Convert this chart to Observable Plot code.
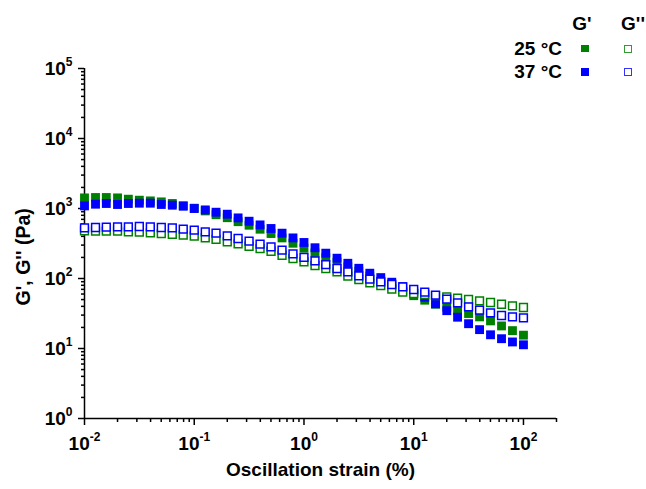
<!DOCTYPE html>
<html><head><meta charset="utf-8">
<script src="https://cdn.jsdelivr.net/npm/d3@7"></script>
<script src="https://cdn.jsdelivr.net/npm/@observablehq/plot@0.6"></script>
<style>
body{margin:0;background:#fff;}
#wrap{position:relative;width:646px;height:489px;font-family:"Liberation Sans",Arial,sans-serif;font-weight:bold;color:#000;}
.lg{position:absolute;font-size:19px;line-height:19px;white-space:nowrap;}
.sq{position:absolute;box-sizing:border-box;}
</style></head><body><div id="wrap"></div>
<script>
// Oscillation strain (%)
const strain = [0.01, 0.0126, 0.0158, 0.02, 0.0251, 0.0316, 0.0398, 0.0501, 0.0631, 0.0794,
  0.1, 0.126, 0.158, 0.2, 0.251, 0.316, 0.398, 0.501, 0.631, 0.794,
  1, 1.26, 1.58, 2, 2.51, 3.16, 3.98, 5.01, 6.31, 7.94,
  10, 12.6, 15.8, 20, 25.1, 31.6, 39.8, 50.1, 63.1, 79.4, 100];
// G' at 25 °C (Pa)
const gp25 = [1417,1436,1436,1417,1358,1314,1284,1243,1179,1096,
  1010,924,815,739,648,577,506,439,380,319,
  271,232,198,171,147,127,108,91.5,77.6,66.5,
  56.8,49.0,42.9,38.9,34.7,31.6,28.3,24.8,21.0,18.0,15.5];
// G' at 37 °C (Pa)
const gp37 = [1089,1152,1179,1141,1179,1191,1191,1141,1115,1079,
  1000,955,885,829,734,658,583,518,444,380,
  327,275,230,195,165,140,119,103,88.5,76.4,
  64.8,54.1,43.6,34.7,28.0,22.6,18.6,15.7,13.8,12.4,11.3];
// G'' at 25 °C (Pa)
const gpp25 = [479,474,474,474,463,459,448,439,429,416,
  402,380,361,333,312,289,268,245,215,193,
  173,153,139,124,108,96.8,86.5,78.9,70.3,63.7,
  60.7,58.7,56.8,54.6,52.3,50.1,47.9,45.4,42.9,40.6,38.5];
// G'' at 37 °C (Pa)
const gpp37 = [528,535,541,546,546,553,546,535,528,506,
  490,463,444,406,373,341,309,283,254,225,
  200,178,158,139,124,109,97.7,89.4,82.1,75.9,
  69.6,63.7,57.7,50.6,44.8,39.3,35.3,32.3,29.6,28.3,27.4];

const xTicks = [0.01, 0.1, 1, 10, 100];
const xTickLabels = ["10^-2", "10^-1", "10^0", "10^1", "10^2"];
const yTicks = [1, 10, 100, 1000, 10000, 100000];
const yTickLabels = ["10^0", "10^1", "10^2", "10^3", "10^4", "10^5"];
const xTitle = ["Oscillation strain (%)"];
const yTitle = ["G', G'' (Pa)"];
const legendCols = ["G'", "G''"];
const legendRows = ["25 °C", "37 °C"];
const colors = ["#008000", "#0000ff"];

const rows = strain.map((s, i) => ({strain: s, gp25: gp25[i], gp37: gp37[i], gpp25: gpp25[i], gpp37: gpp37[i]}));

function minorTicks(lo, hi, max) {
  const out = [];
  for (let e = lo; e <= hi; e++) for (let m = 2; m <= 9; m++) { const v = m * Math.pow(10, e); if (v <= max) out.push(+v.toPrecision(3)); }
  return out;
}
const xMinor = minorTicks(-2, 2, 200);
const yMinor = minorTicks(0, 4, 1e5);

const chart = Plot.plot({
  width: 646, height: 489,
  marginLeft: 84, marginRight: 90, marginTop: 68, marginBottom: 71,
  style: {fontFamily: "'Liberation Sans', Arial, sans-serif", fontWeight: "bold", background: "white", color: "black", overflow: "visible"},
  x: {type: "log", domain: [0.01, 200]},
  y: {type: "log", domain: [1, 1e5]},
  marks: [
    Plot.axisX({ticks: xMinor, tickSize: 4, strokeWidth: 1.5, tickFormat: () => "", label: null}),
    Plot.axisX({ticks: xTicks, tickSize: 7, tickPadding: 11, strokeWidth: 1.5, fontSize: 19, tickFormat: d => xTickLabels[xTicks.indexOf(d)], label: null}),
    Plot.axisY({ticks: yMinor, tickSize: 3, strokeWidth: 1.5, tickFormat: () => "", label: null}),
    Plot.axisY({ticks: yTicks, tickSize: 6, tickPadding: 6, strokeWidth: 1.5, fontSize: 19, tickFormat: d => yTickLabels[yTicks.indexOf(d)], label: null}),
    Plot.ruleY([1], {stroke: "black", strokeWidth: 1.5}),
    Plot.ruleX([0.01], {stroke: "black", strokeWidth: 1.5}),
    Plot.dot(rows, {x: "strain", y: "gp25", symbol: "square", r: 5, fill: colors[0]}),
    Plot.dot(rows, {x: "strain", y: "gp37", symbol: "square", r: 5, fill: colors[1]}),
    Plot.dot(rows, {x: "strain", y: "gpp25", symbol: "square", r: 4.4, fill: "white", stroke: colors[0], strokeWidth: 1.5}),
    Plot.dot(rows, {x: "strain", y: "gpp37", symbol: "square", r: 4.4, fill: "white", stroke: colors[1], strokeWidth: 1.5}),
    Plot.text(xTitle, {text: d => d, frameAnchor: "bottom", dy: 57, fontSize: 19, fontWeight: "bold", fill: "black"}),
    Plot.text(yTitle, {text: d => d, frameAnchor: "left", dx: -61, dy: 62, rotate: -90, fontSize: 19.5, fontWeight: "bold", fill: "black"})
  ]
});

// superscript exponents in tick labels
d3.select(chart).selectAll('g[aria-label$="tick label"] text').each(function () {
  const s = this.textContent;
  if (!s.includes("^")) return;
  const [b, e] = s.split("^");
  const t = d3.select(this);
  t.text(null);
  t.append("tspan").text(b);
  t.append("tspan").attr("dy", -9).attr("font-size", 12).text(e);
});

const wrap = document.getElementById("wrap");
wrap.appendChild(chart);

// legend
function addText(txt, style) {
  const d = document.createElement("div");
  d.className = "lg"; d.textContent = txt;
  Object.assign(d.style, style);
  wrap.appendChild(d);
}
function addSq(color, filled, cx, cy) {
  const d = document.createElement("div");
  d.className = "sq";
  const s = filled ? 7.5 : 8;
  Object.assign(d.style, {left: (cx - s / 2) + "px", top: (cy - s / 2) + "px", width: s + "px", height: s + "px"});
  if (filled) d.style.background = color; else { d.style.border = "1.5px solid " + color; d.style.opacity = 0.8; }
  wrap.appendChild(d);
}
addText(legendCols[0], {left: "562px", width: "40px", textAlign: "center", top: "14px"});
addText(legendCols[1], {left: "613px", width: "40px", textAlign: "center", top: "14px"});
addText(legendRows[0], {right: "84px", top: "39px"});
addText(legendRows[1], {right: "84px", top: "62px"});
addSq(colors[0], true, 585, 48.5);
addSq(colors[0], false, 628.3, 48.5);
addSq(colors[1], true, 585, 72);
addSq(colors[1], false, 628.3, 72);
</script></body></html>
